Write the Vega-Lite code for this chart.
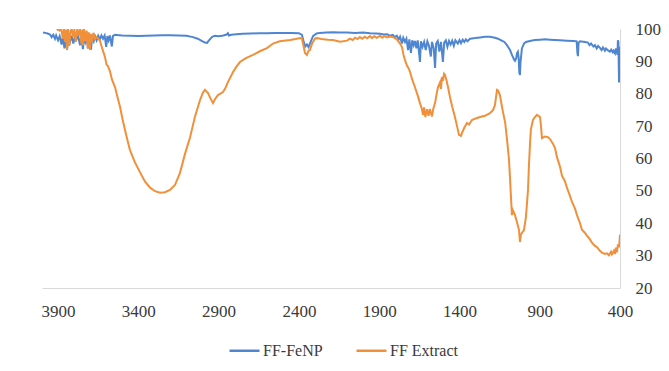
{
  "$schema": "https://vega.github.io/schema/vega-lite/v6.json",
  "width": 578,
  "height": 259,
  "autosize": {"type": "none"},
  "padding": {"left": 42, "top": 29, "right": 49, "bottom": 83},
  "background": "white",
  "config": {"view": {"stroke": null}, "font": "Times New Roman, Liberation Serif, DejaVu Serif, serif"},
  "datasets": {
    "feNP": [
      {"wn": 3994, "t": 98.9}, {"wn": 3981, "t": 98.8}, {"wn": 3965, "t": 98.6}, {"wn": 3950, "t": 98.3}, {"wn": 3940, "t": 97.5}, {"wn": 3930, "t": 98.2}, {"wn": 3919, "t": 97.0}, {"wn": 3912, "t": 98.0}, {"wn": 3900, "t": 96.5}, {"wn": 3890, "t": 97.8}, {"wn": 3878, "t": 95.2}, {"wn": 3870, "t": 97.6}, {"wn": 3860, "t": 94.0}, {"wn": 3850, "t": 97.5}, {"wn": 3844, "t": 93.5}, {"wn": 3836, "t": 97.8}, {"wn": 3826, "t": 96.0}, {"wn": 3815, "t": 97.9}, {"wn": 3805, "t": 95.5}, {"wn": 3794, "t": 97.6}, {"wn": 3785, "t": 96.8}, {"wn": 3775, "t": 97.9}, {"wn": 3763, "t": 95.0}, {"wn": 3755, "t": 97.7}, {"wn": 3745, "t": 93.8}, {"wn": 3738, "t": 97.5}, {"wn": 3730, "t": 96.0}, {"wn": 3720, "t": 97.8}, {"wn": 3714, "t": 94.0}, {"wn": 3705, "t": 97.6}, {"wn": 3695, "t": 93.6}, {"wn": 3688, "t": 97.4}, {"wn": 3678, "t": 96.2}, {"wn": 3670, "t": 97.8}, {"wn": 3660, "t": 96.5}, {"wn": 3650, "t": 97.9}, {"wn": 3640, "t": 96.8}, {"wn": 3630, "t": 98.0}, {"wn": 3620, "t": 97.0}, {"wn": 3610, "t": 98.0}, {"wn": 3600, "t": 94.5}, {"wn": 3593, "t": 97.8}, {"wn": 3585, "t": 96.5}, {"wn": 3577, "t": 98.0}, {"wn": 3565, "t": 94.6}, {"wn": 3558, "t": 97.9}, {"wn": 3545, "t": 98.2}, {"wn": 3520, "t": 98.1}, {"wn": 3500, "t": 98.0}, {"wn": 3450, "t": 97.9}, {"wn": 3400, "t": 97.8}, {"wn": 3350, "t": 97.9}, {"wn": 3300, "t": 98.0}, {"wn": 3250, "t": 98.1}, {"wn": 3200, "t": 98.1}, {"wn": 3150, "t": 98.0}, {"wn": 3100, "t": 97.9}, {"wn": 3060, "t": 97.5}, {"wn": 3030, "t": 97.0}, {"wn": 3000, "t": 96.2}, {"wn": 2985, "t": 95.8}, {"wn": 2972, "t": 95.7}, {"wn": 2960, "t": 96.5}, {"wn": 2940, "t": 97.6}, {"wn": 2923, "t": 97.9}, {"wn": 2900, "t": 97.8}, {"wn": 2870, "t": 98.0}, {"wn": 2850, "t": 98.3}, {"wn": 2842, "t": 98.7}, {"wn": 2835, "t": 98.0}, {"wn": 2820, "t": 98.2}, {"wn": 2790, "t": 98.4}, {"wn": 2750, "t": 98.5}, {"wn": 2700, "t": 98.6}, {"wn": 2650, "t": 98.7}, {"wn": 2600, "t": 98.7}, {"wn": 2550, "t": 98.8}, {"wn": 2500, "t": 98.8}, {"wn": 2450, "t": 98.8}, {"wn": 2400, "t": 98.7}, {"wn": 2381, "t": 98.2}, {"wn": 2370, "t": 96.0}, {"wn": 2360, "t": 94.6}, {"wn": 2350, "t": 95.2}, {"wn": 2340, "t": 94.4}, {"wn": 2331, "t": 95.5}, {"wn": 2312, "t": 97.8}, {"wn": 2290, "t": 98.6}, {"wn": 2269, "t": 98.8}, {"wn": 2230, "t": 98.9}, {"wn": 2188, "t": 99.0}, {"wn": 2144, "t": 98.9}, {"wn": 2100, "t": 98.9}, {"wn": 2050, "t": 98.8}, {"wn": 2000, "t": 98.9}, {"wn": 1957, "t": 98.7}, {"wn": 1920, "t": 98.6}, {"wn": 1895, "t": 98.5}, {"wn": 1870, "t": 98.3}, {"wn": 1850, "t": 98.4}, {"wn": 1833, "t": 97.9}, {"wn": 1815, "t": 98.2}, {"wn": 1802, "t": 97.5}, {"wn": 1790, "t": 97.9}, {"wn": 1778, "t": 96.8}, {"wn": 1770, "t": 97.6}, {"wn": 1758, "t": 95.5}, {"wn": 1750, "t": 97.3}, {"wn": 1739, "t": 96.0}, {"wn": 1730, "t": 97.0}, {"wn": 1720, "t": 93.5}, {"wn": 1712, "t": 96.8}, {"wn": 1702, "t": 92.6}, {"wn": 1694, "t": 96.5}, {"wn": 1685, "t": 95.0}, {"wn": 1677, "t": 96.3}, {"wn": 1668, "t": 94.0}, {"wn": 1660, "t": 96.5}, {"wn": 1650, "t": 92.0}, {"wn": 1646, "t": 89.8}, {"wn": 1640, "t": 96.2}, {"wn": 1630, "t": 94.5}, {"wn": 1620, "t": 96.0}, {"wn": 1610, "t": 93.5}, {"wn": 1600, "t": 96.2}, {"wn": 1590, "t": 94.8}, {"wn": 1578, "t": 91.5}, {"wn": 1571, "t": 96.0}, {"wn": 1560, "t": 94.0}, {"wn": 1552, "t": 88.0}, {"wn": 1545, "t": 95.5}, {"wn": 1535, "t": 96.3}, {"wn": 1525, "t": 93.0}, {"wn": 1515, "t": 96.0}, {"wn": 1503, "t": 89.8}, {"wn": 1495, "t": 95.8}, {"wn": 1485, "t": 96.5}, {"wn": 1475, "t": 94.5}, {"wn": 1465, "t": 96.3}, {"wn": 1455, "t": 95.2}, {"wn": 1445, "t": 96.4}, {"wn": 1435, "t": 94.8}, {"wn": 1425, "t": 96.5}, {"wn": 1410, "t": 95.5}, {"wn": 1400, "t": 96.6}, {"wn": 1390, "t": 95.6}, {"wn": 1380, "t": 96.7}, {"wn": 1370, "t": 96.0}, {"wn": 1360, "t": 96.8}, {"wn": 1350, "t": 96.2}, {"wn": 1334, "t": 97.0}, {"wn": 1322, "t": 97.1}, {"wn": 1303, "t": 97.2}, {"wn": 1272, "t": 97.4}, {"wn": 1241, "t": 97.6}, {"wn": 1210, "t": 97.6}, {"wn": 1179, "t": 97.3}, {"wn": 1160, "t": 97.0}, {"wn": 1140, "t": 96.5}, {"wn": 1120, "t": 96.0}, {"wn": 1104, "t": 95.0}, {"wn": 1085, "t": 93.5}, {"wn": 1073, "t": 92.0}, {"wn": 1060, "t": 90.6}, {"wn": 1054, "t": 90.2}, {"wn": 1046, "t": 91.0}, {"wn": 1042, "t": 92.5}, {"wn": 1036, "t": 93.0}, {"wn": 1031, "t": 91.0}, {"wn": 1027, "t": 86.5}, {"wn": 1023, "t": 85.8}, {"wn": 1020, "t": 89.5}, {"wn": 1011, "t": 94.0}, {"wn": 998, "t": 95.5}, {"wn": 986, "t": 96.0}, {"wn": 961, "t": 96.3}, {"wn": 930, "t": 96.6}, {"wn": 898, "t": 96.7}, {"wn": 867, "t": 96.8}, {"wn": 836, "t": 96.7}, {"wn": 805, "t": 96.6}, {"wn": 774, "t": 96.5}, {"wn": 730, "t": 96.4}, {"wn": 690, "t": 96.3}, {"wn": 670, "t": 96.2}, {"wn": 665, "t": 92.5}, {"wn": 662, "t": 91.6}, {"wn": 658, "t": 95.8}, {"wn": 649, "t": 96.2}, {"wn": 618, "t": 96.0}, {"wn": 600, "t": 95.8}, {"wn": 590, "t": 95.0}, {"wn": 580, "t": 95.5}, {"wn": 575, "t": 95.2}, {"wn": 565, "t": 94.6}, {"wn": 556, "t": 95.0}, {"wn": 545, "t": 94.0}, {"wn": 536, "t": 94.8}, {"wn": 525, "t": 94.2}, {"wn": 515, "t": 93.5}, {"wn": 506, "t": 94.3}, {"wn": 494, "t": 93.3}, {"wn": 487, "t": 94.0}, {"wn": 475, "t": 93.4}, {"wn": 463, "t": 93.0}, {"wn": 455, "t": 93.6}, {"wn": 445, "t": 92.8}, {"wn": 440, "t": 93.3}, {"wn": 431, "t": 92.5}, {"wn": 425, "t": 94.0}, {"wn": 419, "t": 93.0}, {"wn": 416, "t": 92.0}, {"wn": 413, "t": 96.5}, {"wn": 410, "t": 96.0}, {"wn": 406, "t": 83.5}, {"wn": 404, "t": 90.0}, {"wn": 401, "t": 94.5}, {"wn": 400, "t": 90.0}
    ],
    "extract": [
      {"wn": 3907, "t": 99.6}, {"wn": 3900, "t": 100}, {"wn": 3890, "t": 99.5}, {"wn": 3880, "t": 100}, {"wn": 3870, "t": 97.0}, {"wn": 3863, "t": 100}, {"wn": 3857, "t": 96.0}, {"wn": 3850, "t": 99.8}, {"wn": 3844, "t": 93.5}, {"wn": 3838, "t": 100}, {"wn": 3830, "t": 94.8}, {"wn": 3822, "t": 99.5}, {"wn": 3815, "t": 100}, {"wn": 3805, "t": 97.5}, {"wn": 3798, "t": 100}, {"wn": 3790, "t": 96.0}, {"wn": 3780, "t": 100}, {"wn": 3770, "t": 98.0}, {"wn": 3763, "t": 100}, {"wn": 3755, "t": 95.5}, {"wn": 3748, "t": 99.8}, {"wn": 3745, "t": 95.0}, {"wn": 3738, "t": 100}, {"wn": 3730, "t": 96.2}, {"wn": 3722, "t": 99.5}, {"wn": 3714, "t": 94.0}, {"wn": 3708, "t": 99.0}, {"wn": 3701, "t": 93.5}, {"wn": 3695, "t": 98.5}, {"wn": 3688, "t": 96.0}, {"wn": 3680, "t": 98.8}, {"wn": 3670, "t": 97.0}, {"wn": 3660, "t": 97.5}, {"wn": 3650, "t": 97.0}, {"wn": 3639, "t": 96.4}, {"wn": 3625, "t": 94.0}, {"wn": 3608, "t": 91.4}, {"wn": 3598, "t": 89.0}, {"wn": 3590, "t": 88.6}, {"wn": 3577, "t": 87.0}, {"wn": 3565, "t": 84.5}, {"wn": 3545, "t": 82.0}, {"wn": 3530, "t": 79.0}, {"wn": 3514, "t": 76.0}, {"wn": 3500, "t": 72.5}, {"wn": 3483, "t": 68.8}, {"wn": 3467, "t": 65.5}, {"wn": 3452, "t": 62.6}, {"wn": 3435, "t": 60.5}, {"wn": 3421, "t": 58.8}, {"wn": 3390, "t": 55.8}, {"wn": 3359, "t": 52.9}, {"wn": 3327, "t": 51.0}, {"wn": 3296, "t": 49.9}, {"wn": 3265, "t": 49.4}, {"wn": 3234, "t": 49.6}, {"wn": 3203, "t": 50.3}, {"wn": 3172, "t": 51.8}, {"wn": 3141, "t": 55.5}, {"wn": 3109, "t": 61.5}, {"wn": 3078, "t": 66.5}, {"wn": 3066, "t": 69.0}, {"wn": 3047, "t": 73.0}, {"wn": 3016, "t": 78.0}, {"wn": 2998, "t": 80.3}, {"wn": 2985, "t": 81.2}, {"wn": 2966, "t": 80.2}, {"wn": 2950, "t": 78.5}, {"wn": 2935, "t": 77.1}, {"wn": 2923, "t": 78.3}, {"wn": 2904, "t": 79.6}, {"wn": 2873, "t": 80.5}, {"wn": 2860, "t": 81.5}, {"wn": 2842, "t": 83.6}, {"wn": 2810, "t": 86.7}, {"wn": 2790, "t": 88.3}, {"wn": 2767, "t": 89.8}, {"wn": 2730, "t": 91.0}, {"wn": 2686, "t": 92.0}, {"wn": 2640, "t": 93.2}, {"wn": 2599, "t": 94.1}, {"wn": 2561, "t": 95.5}, {"wn": 2520, "t": 96.2}, {"wn": 2455, "t": 96.6}, {"wn": 2420, "t": 96.9}, {"wn": 2393, "t": 97.2}, {"wn": 2381, "t": 97.0}, {"wn": 2370, "t": 94.5}, {"wn": 2362, "t": 92.6}, {"wn": 2350, "t": 92.0}, {"wn": 2340, "t": 93.3}, {"wn": 2331, "t": 93.5}, {"wn": 2318, "t": 95.5}, {"wn": 2300, "t": 97.0}, {"wn": 2287, "t": 97.2}, {"wn": 2260, "t": 96.9}, {"wn": 2220, "t": 96.7}, {"wn": 2188, "t": 96.6}, {"wn": 2144, "t": 96.1}, {"wn": 2100, "t": 96.4}, {"wn": 2082, "t": 97.0}, {"wn": 2065, "t": 96.6}, {"wn": 2050, "t": 97.3}, {"wn": 2035, "t": 96.9}, {"wn": 2020, "t": 97.5}, {"wn": 2005, "t": 97.0}, {"wn": 1990, "t": 97.6}, {"wn": 1975, "t": 97.1}, {"wn": 1957, "t": 97.8}, {"wn": 1945, "t": 97.2}, {"wn": 1930, "t": 97.8}, {"wn": 1915, "t": 97.3}, {"wn": 1895, "t": 97.9}, {"wn": 1880, "t": 97.3}, {"wn": 1870, "t": 97.8}, {"wn": 1850, "t": 97.4}, {"wn": 1833, "t": 97.7}, {"wn": 1815, "t": 97.5}, {"wn": 1802, "t": 97.2}, {"wn": 1785, "t": 96.5}, {"wn": 1770, "t": 95.5}, {"wn": 1758, "t": 94.4}, {"wn": 1748, "t": 92.0}, {"wn": 1739, "t": 90.4}, {"wn": 1728, "t": 88.8}, {"wn": 1718, "t": 88.0}, {"wn": 1708, "t": 86.8}, {"wn": 1695, "t": 84.5}, {"wn": 1677, "t": 82.0}, {"wn": 1660, "t": 79.5}, {"wn": 1646, "t": 77.1}, {"wn": 1635, "t": 75.5}, {"wn": 1627, "t": 73.5}, {"wn": 1620, "t": 75.8}, {"wn": 1612, "t": 72.8}, {"wn": 1602, "t": 75.2}, {"wn": 1592, "t": 73.2}, {"wn": 1584, "t": 75.3}, {"wn": 1571, "t": 73.0}, {"wn": 1562, "t": 75.5}, {"wn": 1552, "t": 77.1}, {"wn": 1540, "t": 80.5}, {"wn": 1534, "t": 82.0}, {"wn": 1521, "t": 83.5}, {"wn": 1515, "t": 81.5}, {"wn": 1509, "t": 85.2}, {"wn": 1503, "t": 84.0}, {"wn": 1496, "t": 86.2}, {"wn": 1490, "t": 85.8}, {"wn": 1480, "t": 84.0}, {"wn": 1471, "t": 82.0}, {"wn": 1459, "t": 79.0}, {"wn": 1445, "t": 76.0}, {"wn": 1428, "t": 72.8}, {"wn": 1415, "t": 70.0}, {"wn": 1403, "t": 67.3}, {"wn": 1390, "t": 67.0}, {"wn": 1384, "t": 67.9}, {"wn": 1370, "t": 69.5}, {"wn": 1353, "t": 71.0}, {"wn": 1340, "t": 70.5}, {"wn": 1322, "t": 71.9}, {"wn": 1303, "t": 72.3}, {"wn": 1272, "t": 72.8}, {"wn": 1241, "t": 73.2}, {"wn": 1210, "t": 74.0}, {"wn": 1190, "t": 75.0}, {"wn": 1179, "t": 76.5}, {"wn": 1172, "t": 79.0}, {"wn": 1166, "t": 81.2}, {"wn": 1160, "t": 81.0}, {"wn": 1148, "t": 79.6}, {"wn": 1135, "t": 76.0}, {"wn": 1129, "t": 74.4}, {"wn": 1115, "t": 71.0}, {"wn": 1104, "t": 66.0}, {"wn": 1092, "t": 60.0}, {"wn": 1085, "t": 54.0}, {"wn": 1079, "t": 48.0}, {"wn": 1073, "t": 42.5}, {"wn": 1067, "t": 44.0}, {"wn": 1054, "t": 42.5}, {"wn": 1042, "t": 40.4}, {"wn": 1029, "t": 37.9}, {"wn": 1023, "t": 34.2}, {"wn": 1017, "t": 36.5}, {"wn": 1011, "t": 37.0}, {"wn": 998, "t": 37.9}, {"wn": 986, "t": 41.9}, {"wn": 973, "t": 50.3}, {"wn": 967, "t": 58.0}, {"wn": 961, "t": 64.0}, {"wn": 955, "t": 69.0}, {"wn": 942, "t": 71.9}, {"wn": 930, "t": 72.8}, {"wn": 917, "t": 73.5}, {"wn": 898, "t": 72.8}, {"wn": 892, "t": 70.0}, {"wn": 886, "t": 66.3}, {"wn": 867, "t": 66.8}, {"wn": 849, "t": 66.6}, {"wn": 836, "t": 66.0}, {"wn": 817, "t": 64.5}, {"wn": 805, "t": 63.2}, {"wn": 793, "t": 60.5}, {"wn": 774, "t": 57.5}, {"wn": 761, "t": 54.6}, {"wn": 743, "t": 53.0}, {"wn": 730, "t": 50.9}, {"wn": 712, "t": 48.5}, {"wn": 699, "t": 46.6}, {"wn": 680, "t": 44.5}, {"wn": 668, "t": 42.5}, {"wn": 649, "t": 40.0}, {"wn": 637, "t": 38.0}, {"wn": 618, "t": 37.0}, {"wn": 606, "t": 36.2}, {"wn": 587, "t": 35.0}, {"wn": 575, "t": 34.0}, {"wn": 556, "t": 33.0}, {"wn": 543, "t": 32.6}, {"wn": 525, "t": 31.5}, {"wn": 512, "t": 30.9}, {"wn": 494, "t": 30.5}, {"wn": 481, "t": 30.7}, {"wn": 469, "t": 30.1}, {"wn": 456, "t": 31.2}, {"wn": 450, "t": 30.4}, {"wn": 438, "t": 31.5}, {"wn": 431, "t": 30.5}, {"wn": 425, "t": 32.5}, {"wn": 419, "t": 31.0}, {"wn": 413, "t": 33.5}, {"wn": 406, "t": 32.5}, {"wn": 400, "t": 36.5}
    ]
  },
  "encoding": {
    "x": {
      "field": "wn",
      "type": "quantitative",
      "scale": {"domain": [400, 4000], "reverse": true, "nice": false, "zero": false},
      "axis": {
        "title": null,
        "orient": "bottom",
        "values": [3900, 3400, 2900, 2400, 1900, 1400, 900, 400],
        "format": "d",
        "ticks": false,
        "grid": false,
        "domainColor": "#d9d9d9",
        "domainWidth": 1,
        "labelFont": "Times New Roman, Liberation Serif, DejaVu Serif, serif",
        "labelFontSize": 17,
        "labelColor": "#3a3a3a",
        "labelPadding": 15,
        "labelFlush": false,
        "labelOverlap": false
      }
    },
    "y": {
      "field": "t",
      "type": "quantitative",
      "scale": {"domain": [20, 100], "nice": false, "zero": false},
      "axis": {
        "title": null,
        "orient": "right",
        "values": [20, 30, 40, 50, 60, 70, 80, 90, 100],
        "format": "d",
        "ticks": false,
        "grid": false,
        "domainColor": "#d9d9d9",
        "domainWidth": 1,
        "labelFont": "Times New Roman, Liberation Serif, DejaVu Serif, serif",
        "labelFontSize": 17,
        "labelColor": "#3a3a3a",
        "labelPadding": 15,
        "labelFlush": false,
        "labelOverlap": false
      }
    },
    "color": {
      "field": "series",
      "type": "nominal",
      "scale": {"domain": ["FF-FeNP", "FF Extract"], "range": ["#4F86D2", "#F0903A"]},
      "legend": {
        "title": null,
        "orient": "none",
        "direction": "horizontal",
        "legendX": 186,
        "legendY": 305,
        "symbolType": "stroke",
        "symbolSize": 900,
        "symbolStrokeWidth": 2.5,
        "labelFont": "Times New Roman, Liberation Serif, DejaVu Serif, serif",
        "labelFontSize": 16,
        "labelColor": "#3a3a3a",
        "labelOffset": 2,
        "columnPadding": 28
      }
    }
  },
  "layer": [
    {
      "data": {"name": "feNP"},
      "transform": [{"calculate": "'FF-FeNP'", "as": "series"}],
      "mark": {"type": "line", "strokeWidth": 2, "clip": true}
    },
    {
      "data": {"name": "extract"},
      "transform": [{"calculate": "'FF Extract'", "as": "series"}],
      "mark": {"type": "line", "strokeWidth": 2, "clip": true}
    }
  ]
}
